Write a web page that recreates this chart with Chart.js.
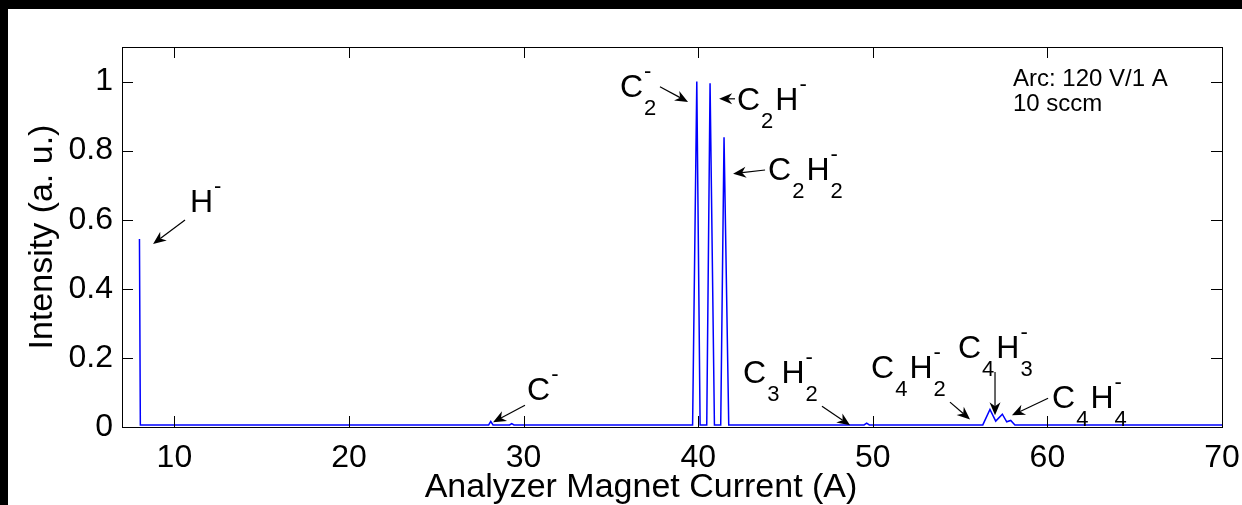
<!DOCTYPE html>
<html>
<head>
<meta charset="utf-8">
<title>Negative ion mass spectrum</title>
<script src="https://cdn.jsdelivr.net/npm/chart.js@4/dist/chart.umd.min.js"></script>
<style>
  html, body { margin: 0; padding: 0; background: #000; }
  #spectrum { display: block; }
</style>
</head>
<body>
<canvas id="spectrum" width="1242" height="505"></canvas>
<script>
// Analyzer magnet current (A) and normalised ion intensity
const current = [8.0, 8.05, 28.0, 28.12, 28.25, 29.2, 29.32, 29.45,
  39.68, 39.92, 40.11, 40.49, 40.68, 40.93, 41.29, 41.48, 41.75,
  49.5, 49.65, 49.8, 56.3, 56.71, 57.04, 57.42, 57.67, 57.9, 58.14, 70.0];
const intensity = [0.544, 0.006, 0.006, 0.016, 0.006, 0.006, 0.010, 0.006,
  0.006, 1.0, 0.006, 0.006, 0.995, 0.006, 0.006, 0.839, 0.006,
  0.006, 0.011, 0.006, 0.006, 0.051, 0.017, 0.037, 0.015, 0.019, 0.006, 0.006];

// Axis ticks
const xTickValues = [10, 20, 30, 40, 50, 60, 70];
const xTickLabels = ['10', '20', '30', '40', '50', '60', '70'];
const yTickValues = [0, 0.2, 0.4, 0.6, 0.8, 1];
const yTickLabels = ['0', '0.2', '0.4', '0.6', '0.8', '1'];

// Ion species labels (x/y in axis units) and their pointer arrows
const ionLabels = ['H^-', 'C^-', 'C_2^-', 'C_2H^-', 'C_2H_2^-', 'C_3H_2^-', 'C_4H_2^-', 'C_4H_3^-', 'C_4H_4^-'];
const ionLabelX = [10.89, 30.20, 35.52, 42.22, 44.0, 42.57, 49.90, 54.88, 60.27];
const ionLabelY = [0.622, 0.077, 0.956, 0.918, 0.715, 0.127, 0.141, 0.199, 0.054];
const arrowFromX = [10.61, 30.08, 37.81, 42.11, 43.83, 47.09, 54.42, 57.0, 60.04];
const arrowFromY = [0.599, 0.063, 0.985, 0.950, 0.744, 0.060, 0.072, 0.159, 0.083];
const arrowToX = [8.78, 28.25, 39.42, 41.20, 42.0, 48.70, 55.57, 57.0, 57.97];
const arrowToY = [0.530, 0.014, 0.941, 0.950, 0.733, 0.005, 0.022, 0.034, 0.034];

// Source conditions
const conditionLines = ['Arc: 120 V/1 A', '10 sccm'];
const conditionX = 58.03;
const conditionY = [0.9875, 0.915];

const xTitle = 'Analyzer Magnet Current (A)';
const yTitle = 'Intensity (a. u.)';

const FAMILY = '"Liberation Sans", Arial, Helvetica, sans-serif';
const TICK_LEN = 11;

// Split "C_2H_2^-" into base glyphs and stacked sub/superscript groups
function parseTex(str) {
  const parts = [];
  let i = 0;
  while (i < str.length) {
    const c = str[i];
    if (c === '_' || c === '^') {
      let grp = parts.length && parts[parts.length - 1].script ? parts[parts.length - 1] : null;
      if (!grp || grp[c === '_' ? 'sub' : 'sup'] !== undefined) {
        grp = { script: true };
        parts.push(grp);
      }
      grp[c === '_' ? 'sub' : 'sup'] = str[i + 1];
      i += 2;
    } else {
      parts.push({ text: c });
      i += 1;
    }
  }
  return parts;
}

function drawTexLabel(ctx, x, y, str) {
  const parts = parseTex(str);
  let cx = x;
  for (const p of parts) {
    if (p.text !== undefined) {
      ctx.font = '32px ' + FAMILY;
      ctx.fillText(p.text, cx, y);
      cx += ctx.measureText(p.text).width;
    } else {
      ctx.font = '22px ' + FAMILY;
      let w = 0;
      if (p.sub !== undefined) {
        ctx.fillText(p.sub, cx + 1, y + 18);
        w = Math.max(w, ctx.measureText(p.sub).width);
      }
      if (p.sup !== undefined) {
        ctx.fillText(p.sup, cx + 1, y - 19);
        w = Math.max(w, ctx.measureText(p.sup).width);
      }
      cx += w + 3;
    }
  }
}

function drawArrow(ctx, x0, y0, x1, y1) {
  const ang = Math.atan2(y1 - y0, x1 - x0);
  const len = 13, half = 5.5, notch = 9;
  const cos = Math.cos(ang), sin = Math.sin(ang);
  ctx.beginPath();
  ctx.moveTo(x0, y0);
  ctx.lineTo(x1 - cos * notch, y1 - sin * notch);
  ctx.stroke();
  ctx.beginPath();
  ctx.moveTo(x1, y1);
  ctx.lineTo(x1 - cos * len - sin * half, y1 - sin * len + cos * half);
  ctx.lineTo(x1 - cos * notch, y1 - sin * notch);
  ctx.lineTo(x1 - cos * len + sin * half, y1 - sin * len - cos * half);
  ctx.closePath();
  ctx.fill();
}

// Keep the plot box fixed regardless of tick-label overhang
function zeroPadding(s) {
  s.paddingLeft = 0; s.paddingRight = 0; s.paddingTop = 0; s.paddingBottom = 0;
}

const figurePlugin = {
  id: 'figure',
  beforeDraw(chart) {
    const ctx = chart.ctx;
    ctx.save();
    ctx.fillStyle = '#000';
    ctx.fillRect(0, 0, chart.width, chart.height);
    ctx.fillStyle = '#fff';
    ctx.fillRect(8, 9, chart.width - 8, chart.height - 9);
    ctx.restore();
  },
  afterDraw(chart) {
    const ctx = chart.ctx;
    const a = chart.chartArea;
    const xs = chart.scales.x, ys = chart.scales.y;
    ctx.save();
    ctx.strokeStyle = '#000';
    ctx.fillStyle = '#000';
    ctx.lineWidth = 1;

    // axes box
    ctx.strokeRect(Math.round(a.left) + 0.5, Math.round(a.top) + 0.5,
      Math.round(a.right - a.left), Math.round(a.bottom - a.top));

    // inward tick marks on all four sides
    ctx.beginPath();
    for (const v of xTickValues) {
      const px = Math.round(xs.getPixelForValue(v)) + 0.5;
      ctx.moveTo(px, a.bottom); ctx.lineTo(px, a.bottom - TICK_LEN);
      ctx.moveTo(px, a.top); ctx.lineTo(px, a.top + TICK_LEN);
    }
    for (const v of yTickValues) {
      const py = Math.round(ys.getPixelForValue(v)) + 0.5;
      ctx.moveTo(a.left, py); ctx.lineTo(a.left + TICK_LEN, py);
      ctx.moveTo(a.right, py); ctx.lineTo(a.right - TICK_LEN, py);
    }
    ctx.stroke();

    // ion labels with arrows
    ctx.lineWidth = 1.2;
    ctx.textBaseline = 'alphabetic';
    ctx.textAlign = 'left';
    ionLabels.forEach((lab, i) => {
      drawTexLabel(ctx, xs.getPixelForValue(ionLabelX[i]), ys.getPixelForValue(ionLabelY[i]), lab);
      drawArrow(ctx,
        xs.getPixelForValue(arrowFromX[i]), ys.getPixelForValue(arrowFromY[i]),
        xs.getPixelForValue(arrowToX[i]), ys.getPixelForValue(arrowToY[i]));
    });

    // source conditions
    ctx.font = '24px ' + FAMILY;
    conditionLines.forEach((t, i) => {
      ctx.fillText(t, xs.getPixelForValue(conditionX), ys.getPixelForValue(conditionY[i]));
    });

    // axis titles
    ctx.font = '34px ' + FAMILY;
    ctx.textAlign = 'center';
    ctx.fillText(xTitle, 641, 497);
    ctx.save();
    ctx.translate(52, 237);
    ctx.rotate(-Math.PI / 2);
    ctx.fillText(yTitle, 0, 0);
    ctx.restore();
    ctx.restore();
  }
};

new Chart(document.getElementById('spectrum'), {
  type: 'line',
  data: {
    datasets: [{
      data: current.map((x, i) => ({ x: x, y: intensity[i] })),
      borderColor: '#0000ff',
      borderWidth: 1.5,
      pointRadius: 0,
      tension: 0,
      fill: false
    }]
  },
  options: {
    responsive: false,
    animation: false,
    devicePixelRatio: 1,
    layout: { padding: { top: 47, right: 20, left: 0, bottom: 0 } },
    plugins: { legend: { display: false }, tooltip: { enabled: false } },
    scales: {
      x: {
        type: 'linear',
        min: 7,
        max: 70,
        afterBuildTicks: s => { s.ticks = xTickValues.map(v => ({ value: v })); },
        afterFit: s => { s.height = 78; zeroPadding(s); },
        grid: { display: false, drawTicks: false },
        border: { display: false },
        ticks: {
          autoSkip: false,
          maxRotation: 0,
          padding: 12,
          color: '#000',
          font: { size: 32, family: FAMILY },
          callback: v => xTickLabels[xTickValues.indexOf(v)]
        }
      },
      y: {
        type: 'linear',
        min: 0,
        max: 1.1,
        afterBuildTicks: s => { s.ticks = yTickValues.map(v => ({ value: v })); },
        afterFit: s => { s.width = 122; zeroPadding(s); },
        grid: { display: false, drawTicks: false },
        border: { display: false },
        ticks: {
          autoSkip: false,
          padding: 9,
          color: '#000',
          font: { size: 32, family: FAMILY },
          callback: v => yTickLabels[yTickValues.indexOf(v)]
        }
      }
    }
  },
  plugins: [figurePlugin]
});
</script>
</body>
</html>
